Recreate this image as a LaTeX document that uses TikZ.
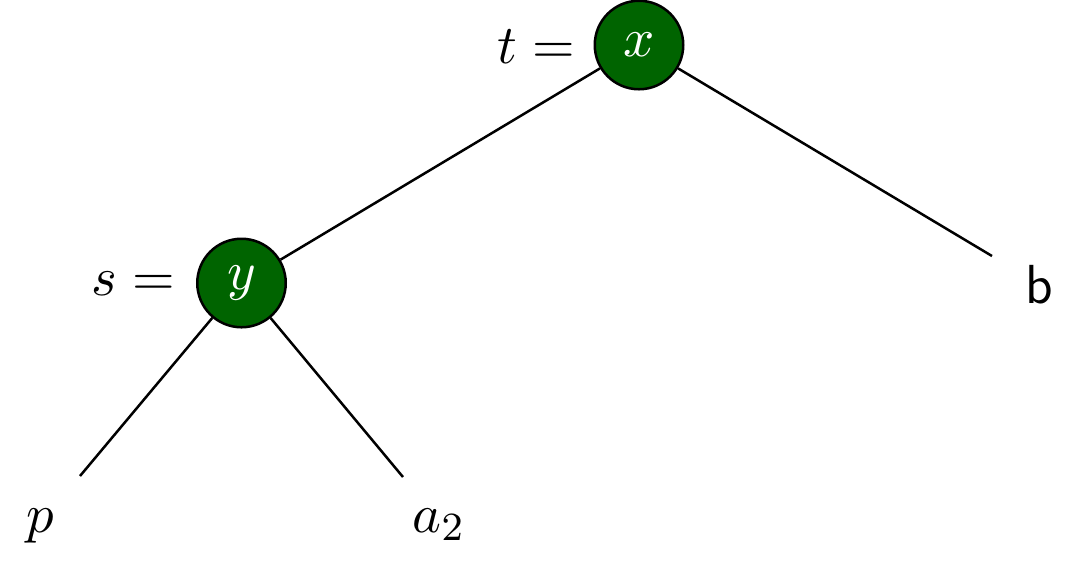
\documentclass[tikz,border=0pt]{standalone}
\definecolor{nodegreen}{RGB}{0,100,0}
\begin{document}
\begin{tikzpicture}[x=0.2pt,y=-0.2pt,
  treenode/.style={circle,draw=black,fill=nodegreen,line width=0.5pt,inner sep=0pt,minimum size=17.7pt,text=white,font=\fontsize{11}{13}\selectfont},
  lbl/.style={inner sep=0pt,font=\fontsize{11}{13}\selectfont},
  edge/.style={line width=0.5pt,black}]
\useasboundingbox (0,0) rectangle (1080,565);
\node[treenode] (x) at (639,45) {$x$};
\node[treenode] (y) at (241.5,283) {$y$};
\node[lbl,anchor=base east] (tl) at (576,63) {$t=$};
\node[lbl,anchor=base east] (sl) at (176,295) {$s=$};
\coordinate (bend) at (992,256);
\coordinate (pend) at (80,476);
\coordinate (aend) at (403,477);
\node[lbl,anchor=base] (b) at (1039,303) {\textsf{b}};
\node[lbl,anchor=base] (p) at (40,532) {$p$};
\node[lbl,anchor=base] (a) at (439,532) {$a_2$};
\draw[edge] (x) -- (y);
\draw[edge] (x) -- (bend);
\draw[edge] (y) -- (pend);
\draw[edge] (y) -- (aend);
\end{tikzpicture}
\end{document}
